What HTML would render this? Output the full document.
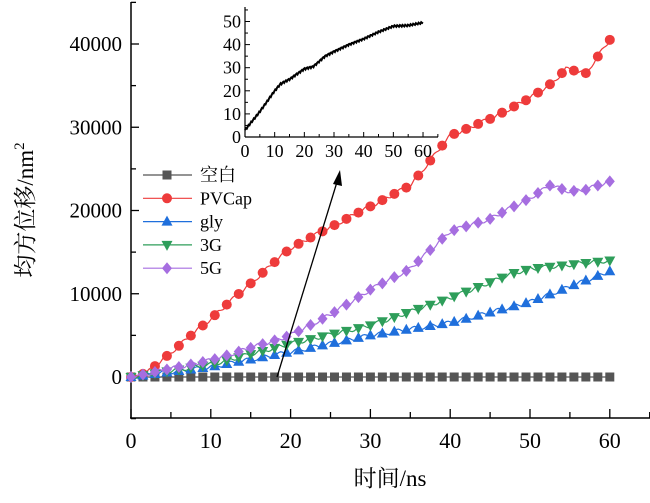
<!DOCTYPE html>
<html><head><meta charset="utf-8"><style>
body{margin:0;background:#fff;width:650px;height:498px;overflow:hidden}
svg{font-family:"Liberation Serif","Noto Serif CJK SC",serif}
</style></head><body>
<svg id="s" width="650" height="498" xmlns="http://www.w3.org/2000/svg"></svg>
<script>
const s=document.getElementById('s');let h='';
const X=t=>131+t*7.98, Y=v=>377-v*0.008325;
h+='<line x1="131" y1="2" x2="131" y2="418" stroke="#000" stroke-width="1.5"/>';
h+='<line x1="130" y1="418" x2="650" y2="418" stroke="#000" stroke-width="1.5"/>';
for(let t=0;t<=65;t+=5){const x=X(t);h+=`<line x1="${x}" y1="418" x2="${x}" y2="${t%10?412:409}" stroke="#000" stroke-width="1.3"/>`;if(t%10==0)h+=`<text x="${x}" y="448" font-size="22" text-anchor="middle">${t}</text>`;}
for(let v=-5000;v<=45000;v+=5000){const y=Y(v);h+=`<line x1="131" y1="${y}" x2="${v%10000?136:139}" y2="${y}" stroke="#000" stroke-width="1.3"/>`;if(v%10000==0&&v>=0)h+=`<text x="122" y="${y+7}" font-size="21" text-anchor="end">${v}</text>`;}
h+='<text x="390" y="486" font-size="23" text-anchor="middle">时间/ns</text>';
h+='<text transform="translate(33,210) rotate(-90)" font-size="23" text-anchor="middle">均方位移/nm<tspan font-size="15" dy="-9">2</tspan></text>';
function interp(pts,t){for(let i=1;i<pts.length;i++){if(t<=pts[i][0]){const a=pts[i-1],b=pts[i];return a[1]+(b[1]-a[1])*(t-a[0])/(b[0]-a[0]);}}return pts[pts.length-1][1];}
const series=[
{c:'#555',m:'sq',p:[[0,0],[60,0]]},
{c:'#ee3b3b',m:'ci',p:[[0,0],[2,500],[10,7000],[20,15500],[25,18000],[30,20500],[35,23000],[40,29000],[45,31000],[50,33500],[53,35500],[54.5,37000],[57,36500],[60,40500]]},
{c:'#1f6fdc',m:'tu',p:[[0,0],[10,1200],[20,3000],[30,5000],[40,6500],[50,9000],[60,12700]]},
{c:'#2e9e5a',m:'td',p:[[0,0],[10,1500],[20,4000],[30,6200],[40,9500],[48,12500],[50,13000],[60,14000]]},
{c:'#a66ee0',m:'di',p:[[0,0],[10,2000],[20,5000],[25,7500],[30,10500],[35,13000],[40,17500],[45,19000],[50,21500],[52.5,23000],[55,22300],[57,22500],[60,23500]]}
];
function mk(m,x,y,c){
 if(m=='sq')return `<rect x="${x-4.5}" y="${y-4.5}" width="9" height="9" fill="${c}"/>`;
 if(m=='ci')return `<circle cx="${x}" cy="${y}" r="5" fill="${c}"/>`;
 if(m=='tu')return `<polygon points="${x},${y-6} ${x-5.5},${y+4} ${x+5.5},${y+4}" fill="${c}"/>`;
 if(m=='td')return `<polygon points="${x},${y+6} ${x-5.5},${y-4} ${x+5.5},${y-4}" fill="${c}"/>`;
 return `<polygon points="${x},${y-6} ${x+5},${y} ${x},${y+6} ${x-5},${y}" fill="${c}"/>`;
}
series.forEach((S,k)=>{let d='';for(let t=0;t<=60;t+=0.25){d+=(t?'L':'M')+X(t).toFixed(1)+','+Y(interp(S.p,t)+(t>0&&k?Math.sin(t*3+k)*250:0)).toFixed(1);}
 h+=`<path d="${d}" fill="none" stroke="${S.c}" stroke-width="1.2"/>`;
 for(let i=0;i<=40;i++){const t=i*1.5;h+=mk(S.m,X(t),Y(interp(S.p,t)),S.c);}});
const names=['空白','PVCap','gly','3G','5G'];
names.forEach((n,i)=>{const y=175+i*23.3,c=series[i].c;h+=`<line x1="143" y1="${y}" x2="192" y2="${y}" stroke="${c}" stroke-width="1.2"/>`+mk(series[i].m,167,y,c)+`<text x="200" y="${y+6}" font-size="18">${n}</text>`;});
h+='<line x1="277" y1="377" x2="337" y2="182" stroke="#000" stroke-width="1.3"/><polygon points="340,170 333,184 342,186" fill="#000"/>';
const ix=t=>245+t*2.967, iy=v=>137-v*2.31;
h+='<line x1="245" y1="7" x2="245" y2="137" stroke="#000" stroke-width="1.2"/><line x1="245" y1="137" x2="438" y2="137" stroke="#000" stroke-width="1.2"/>';
for(let t=0;t<=65;t+=5){h+=`<line x1="${ix(t)}" y1="137" x2="${ix(t)}" y2="${t%10?134:132}" stroke="#000"/>`;if(t%10==0&&t<=60)h+=`<text x="${ix(t)}" y="157" font-size="18" text-anchor="middle">${t}</text>`;}
for(let v=0;v<=55;v+=5){h+=`<line x1="245" y1="${iy(v)}" x2="${v%10?248:250}" y2="${iy(v)}" stroke="#000"/>`;if(v%10==0&&v<=50)h+=`<text x="241" y="${iy(v)+6}" font-size="18" text-anchor="end">${v}</text>`;}
const ip=[[0,3],[5,11],[10,20],[12,23],[15,25],[20,29.5],[23,30.5],[27,35],[30,37],[35,40],[40,42.5],[45,45.5],[50,48],[55,48.3],[60,49.5]];
let d='';for(let t=0;t<=60;t+=0.3){d+=(t?'L':'M')+ix(t).toFixed(1)+','+iy(interp(ip,t)+Math.sin(t*7)*0.4).toFixed(1);}
h+=`<path d="${d}" fill="none" stroke="#000" stroke-width="2"/>`;
s.innerHTML=h;
</script>
</body></html>
